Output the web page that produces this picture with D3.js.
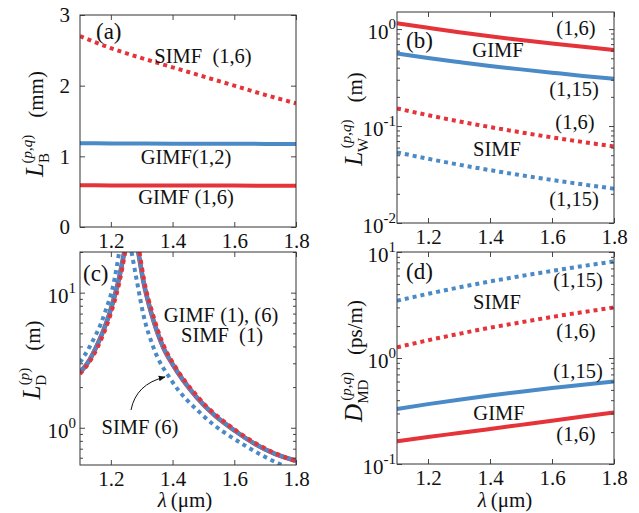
<!DOCTYPE html>
<html>
<head>
<meta charset="utf-8">
<script src="https://cdn.jsdelivr.net/npm/d3@7"></script>
<style>
  html, body { margin: 0; padding: 0; background: #fff; }
  svg text { font-family: "Liberation Serif", "Times New Roman", serif; fill: #111; }
</style>
</head>
<body>
<svg id="fig" width="639" height="513" font-family="Liberation Serif, serif"></svg>
<script>
// Wavelength grid (µm) shared by panels (a), (b) and (d)
const lambda = [1.1, 1.2, 1.3, 1.4, 1.5, 1.6, 1.7, 1.8];
const xTicks = [1.2, 1.4, 1.6, 1.8];

// (a) beat length L_B (mm)
const simfLB16 = [2.70, 2.53, 2.39, 2.26, 2.13, 2.00, 1.87, 1.75];
const gimfLB12 = [1.185, 1.183, 1.181, 1.179, 1.178, 1.177, 1.176, 1.175];
const gimfLB16 = [0.590, 0.589, 0.588, 0.587, 0.586, 0.586, 0.585, 0.585];
const aTicks = [0, 1, 2, 3];

// (b) walk-off length L_W (m)
const gimfLW16  = [1.15, 1.03, 0.927, 0.843, 0.771, 0.709, 0.656, 0.610];
const gimfLW115 = [0.56, 0.503, 0.457, 0.417, 0.384, 0.355, 0.329, 0.307];
const simfLW16  = [0.152, 0.1295, 0.1118, 0.0976, 0.0860, 0.0764, 0.0684, 0.0616];
const simfLW115 = [0.0535, 0.0460, 0.0399, 0.0351, 0.0311, 0.0278, 0.0250, 0.0226];
const bTicks = [0.01, 0.1, 1];

// (c) dispersion length L_D (m): [wavelength, value] on each side of the zero-dispersion point
const gimfLDLeft   = [[1.10, 2.57], [1.13, 3.15], [1.152, 3.93], [1.195, 6.94], [1.225, 12.3], [1.2437, 20]];
const gimfLDRight  = [[1.289, 20], [1.305, 12.3], [1.332, 6.94], [1.370, 3.93], [1.400, 2.95], [1.478, 1.68], [1.602, 0.95], [1.732, 0.64], [1.80, 0.57]];
const simf1LDLeft  = [[1.10, 2.50], [1.132, 3.10], [1.155, 3.85], [1.198, 6.80], [1.228, 12.0], [1.2465, 20]];
const simf1LDRight = [[1.293, 20], [1.308, 12.3], [1.336, 6.94], [1.374, 3.93], [1.404, 2.95], [1.483, 1.68], [1.607, 0.95], [1.738, 0.64], [1.80, 0.565]];
const simf6LDLeft  = [[1.10, 3.05], [1.13, 3.93], [1.179, 6.94], [1.211, 12.3], [1.227, 20]];
const simf6LDRight = [[1.267, 20], [1.284, 12.3], [1.305, 6.94], [1.338, 3.93], [1.397, 2.23], [1.494, 1.26], [1.645, 0.715], [1.754, 0.53], [1.80, 0.48]];
const cTicks = [1, 10];

// (d) modal dispersion D_MD (ps/m)
const simfD115 = [3.47, 4.03, 4.63, 5.27, 5.93, 6.63, 7.37, 8.15];
const simfD16  = [1.26, 1.47, 1.69, 1.93, 2.17, 2.44, 2.71, 3.00];
const gimfD115 = [0.33, 0.367, 0.404, 0.442, 0.481, 0.520, 0.560, 0.600];
const gimfD16  = [0.164, 0.180, 0.196, 0.214, 0.234, 0.256, 0.281, 0.307];
const dTicks = [0.1, 1, 10];

const RED = "#e5333a";
const BLUE = "#4a8ac6";
const svg = d3.select("#fig");

const solid = { width: 4, dash: null };
const dotted = { width: 4, dash: "4 4" };

function minorLogTicks(domain) {
  const out = [];
  const lo = Math.floor(Math.log10(domain[0])), hi = Math.ceil(Math.log10(domain[1]));
  for (let e = lo; e < hi; e++) {
    for (let m = 2; m <= 9; m++) {
      const v = m * Math.pow(10, e);
      if (v >= domain[0] && v <= domain[1]) out.push(v);
    }
  }
  return out;
}

function makePanel(p) {
  const g = svg.append("g");
  const x = d3.scaleLinear().domain([1.1, 1.8]).range([p.left, p.right]);
  const y = (p.log ? d3.scaleLog() : d3.scaleLinear()).domain(p.yDomain).range([p.bottom, p.top]);
  const id = "clip-" + p.name;
  svg.append("clipPath").attr("id", id).append("rect")
    .attr("x", p.left).attr("y", p.top).attr("width", p.right - p.left).attr("height", p.bottom - p.top);

  const plot = g.append("g").attr("clip-path", `url(#${id})`);

  // x ticks: bottom with labels, top mirrored
  g.append("g").attr("transform", `translate(0,${p.bottom})`)
    .call(d3.axisBottom(x).tickValues(xTicks).tickSize(-5).tickSizeOuter(0).tickPadding(6).tickFormat(d3.format(".1f")));
  g.append("g").attr("transform", `translate(0,${p.top})`)
    .call(d3.axisTop(x).tickValues(xTicks).tickSize(-5).tickSizeOuter(0).tickFormat(""));

  // y ticks
  const yl = g.append("g").attr("transform", `translate(${p.left},0)`)
    .call(d3.axisLeft(y).tickValues(p.yTicks).tickSize(-5).tickSizeOuter(0).tickPadding(p.pad)
      .tickFormat(p.log ? (d => Math.round(Math.log10(d))) : d3.format("d")));
  g.append("g").attr("transform", `translate(${p.right},0)`)
    .call(d3.axisRight(y).tickValues(p.yTicks).tickSize(-5).tickSizeOuter(0).tickFormat(""));
  if (p.log) {
    const minors = minorLogTicks(p.yDomain);
    g.append("g").attr("transform", `translate(${p.left},0)`)
      .call(d3.axisLeft(y).tickValues(minors).tickSize(-3).tickSizeOuter(0).tickFormat(""));
    g.append("g").attr("transform", `translate(${p.right},0)`)
      .call(d3.axisRight(y).tickValues(minors).tickSize(-3).tickSizeOuter(0).tickFormat(""));
  }
  g.selectAll("g").attr("font-family", null).attr("font-size", null);
  g.selectAll(".domain").remove();
  g.selectAll(".tick line").attr("stroke", "#333").attr("stroke-width", 0.9);
  g.selectAll(".tick text").attr("font-size", 21).attr("fill", "#111");
  if (p.log) {
    // power-of-ten labels
    yl.selectAll(".tick text").each(function(d) {
      const t = d3.select(this);
      const e = Math.round(Math.log10(d));
      t.text(null).attr("dy", "0.45em");
      t.append("tspan").text("10");
      t.append("tspan").attr("font-size", 15).attr("dy", -10).text(String(e));
    });
  }

  // frame
  g.append("rect").attr("x", p.left).attr("y", p.top)
    .attr("width", p.right - p.left).attr("height", p.bottom - p.top)
    .attr("fill", "none").attr("stroke", "#333").attr("stroke-width", 1);

  return { g, plot, x, y };
}

function drawSeries(panel, values, color, style) {
  const line = d3.line().x((d, i) => panel.x(lambda[i])).y(d => panel.y(d)).curve(d3.curveMonotoneX);
  panel.plot.append("path").datum(values).attr("d", line)
    .attr("fill", "none").attr("stroke", color).attr("stroke-width", style.width)
    .attr("stroke-dasharray", style.dash);
}

function drawPairs(panel, pairs, color, style) {
  const line = d3.line().x(d => panel.x(d[0])).y(d => panel.y(d[1])).curve(d3.curveMonotoneX);
  panel.plot.append("path").datum(pairs).attr("d", line)
    .attr("fill", "none").attr("stroke", color).attr("stroke-width", style.width)
    .attr("stroke-dasharray", style.dash);
}

function label(x, y, txt, size, anchor) {
  return svg.append("text").attr("x", x).attr("y", y)
    .attr("font-size", size || 20.5).attr("text-anchor", anchor || "middle")
    .attr("xml:space", "preserve").style("white-space", "pre").text(txt);
}

// rotated y-axis title:  L_sub^(sup) (unit)
function yTitle(cx, cy, main, sub, supParts, unit) {
  const t = svg.append("text").attr("transform", `translate(${cx},${cy}) rotate(-90)`)
    .attr("text-anchor", "middle").attr("font-size", 21);
  t.append("tspan").attr("font-style", "italic").attr("font-size", 25).text(main);
  t.append("tspan").attr("font-size", 15).attr("dy", 6).text(sub);
  const subW = sub.length * 10.5;
  const sup = t.append("tspan").attr("font-size", 15).attr("dx", -subW).attr("dy", -17);
  supParts.forEach(part => {
    sup.append("tspan").attr("font-style", part.italic ? "italic" : "normal").text(part.t);
  });
  t.append("tspan").attr("dy", 11).attr("dx", 17).text(unit);
}

const pq = [{t: "("}, {t: "p", italic: true}, {t: ","}, {t: "q", italic: true}, {t: ")"}];
const pOnly = [{t: "("}, {t: "p", italic: true}, {t: ")"}];

// ---------- (a) ----------
const A = makePanel({ name: "a", left: 80, right: 296, top: 15, bottom: 227, yDomain: [0, 3], yTicks: aTicks, pad: 10 });
drawSeries(A, simfLB16, RED, dotted);
drawSeries(A, gimfLB12, BLUE, solid);
drawSeries(A, gimfLB16, RED, solid);
label(96, 39, "(a)", 23, "start");
label(203, 63, "SIMF  (1,6)");
label(186, 164, "GIMF(1,2)");
label(186, 204, "GIMF (1,6)");
yTitle(43, 124, "L", "B", pq, "(mm)");

// ---------- (b) ----------
const B = makePanel({ name: "b", left: 397, right: 614, top: 12, bottom: 223, log: true, yDomain: [0.01, 1.5], yTicks: bTicks, pad: 1 });
drawSeries(B, gimfLW16, RED, solid);
drawSeries(B, gimfLW115, BLUE, solid);
drawSeries(B, simfLW16, RED, dotted);
drawSeries(B, simfLW115, BLUE, dotted);
label(406, 48, "(b)", 23, "start");
label(498, 57, "GIMF");
label(576, 35, "(1,6)");
label(574, 96, "(1,15)");
label(575, 129, "(1,6)");
label(497, 156, "SIMF");
label(574, 206, "(1,15)");
yTitle(362, 119, "L", "W", pq, "(m)");

// ---------- (c) ----------
const C = makePanel({ name: "c", left: 80, right: 296, top: 252, bottom: 465, log: true, yDomain: [0.53, 20], yTicks: cTicks, pad: 4 });
drawPairs(C, gimfLDLeft, RED, { width: 4.6, dash: null });
drawPairs(C, gimfLDRight, RED, { width: 4.6, dash: null });
drawPairs(C, gimfLDLeft, BLUE, { width: 4, dash: null });
drawPairs(C, gimfLDRight, BLUE, { width: 4, dash: null });
drawPairs(C, simf1LDLeft, RED, dotted);
drawPairs(C, simf1LDRight, RED, dotted);
drawPairs(C, simf6LDLeft, BLUE, dotted);
drawPairs(C, simf6LDRight, BLUE, dotted);
label(83, 281, "(c)", 23, "start");
label(221, 322, "GIMF (1), (6)");
label(222, 342, "SIMF  (1)");
label(140, 434, "SIMF (6)");
svg.append("defs").append("marker").attr("id", "arrowhead")
  .attr("viewBox", "0 0 10 10").attr("refX", 9).attr("refY", 5)
  .attr("markerWidth", 7).attr("markerHeight", 7).attr("orient", "auto")
  .append("path").attr("d", "M0,1 L10,5 L0,9 Z").attr("fill", "#111");
svg.append("path").attr("d", "M131,410 Q136,384 165,377")
  .attr("fill", "none").attr("stroke", "#111").attr("stroke-width", 1)
  .attr("marker-end", "url(#arrowhead)");
yTitle(40, 360, "L", "D", pOnly, "(m)");

// ---------- (d) ----------
const D = makePanel({ name: "d", left: 397, right: 614, top: 252, bottom: 464, log: true, yDomain: [0.1, 10], yTicks: dTicks, pad: 1 });
drawSeries(D, simfD115, BLUE, dotted);
drawSeries(D, simfD16, RED, dotted);
drawSeries(D, gimfD115, BLUE, solid);
drawSeries(D, gimfD16, RED, solid);
label(406, 279, "(d)", 23, "start");
label(578, 287, "(1,15)");
label(497, 309, "SIMF");
label(576, 338, "(1,6)");
label(578, 378, "(1,15)");
label(499, 420, "GIMF");
label(576, 441, "(1,6)");
yTitle(362, 361, "D", "MD", pq, "(ps/m)");

// ---------- x-axis titles ----------
[[185, 507], [505, 507]].forEach(([cx, cy]) => {
  const t = svg.append("text").attr("x", cx).attr("y", cy).attr("text-anchor", "middle").attr("font-size", 21);
  t.append("tspan").attr("font-style", "italic").text("λ");
  t.append("tspan").attr("dx", 4).text("(μm)");
});
</script>
</body>
</html>
